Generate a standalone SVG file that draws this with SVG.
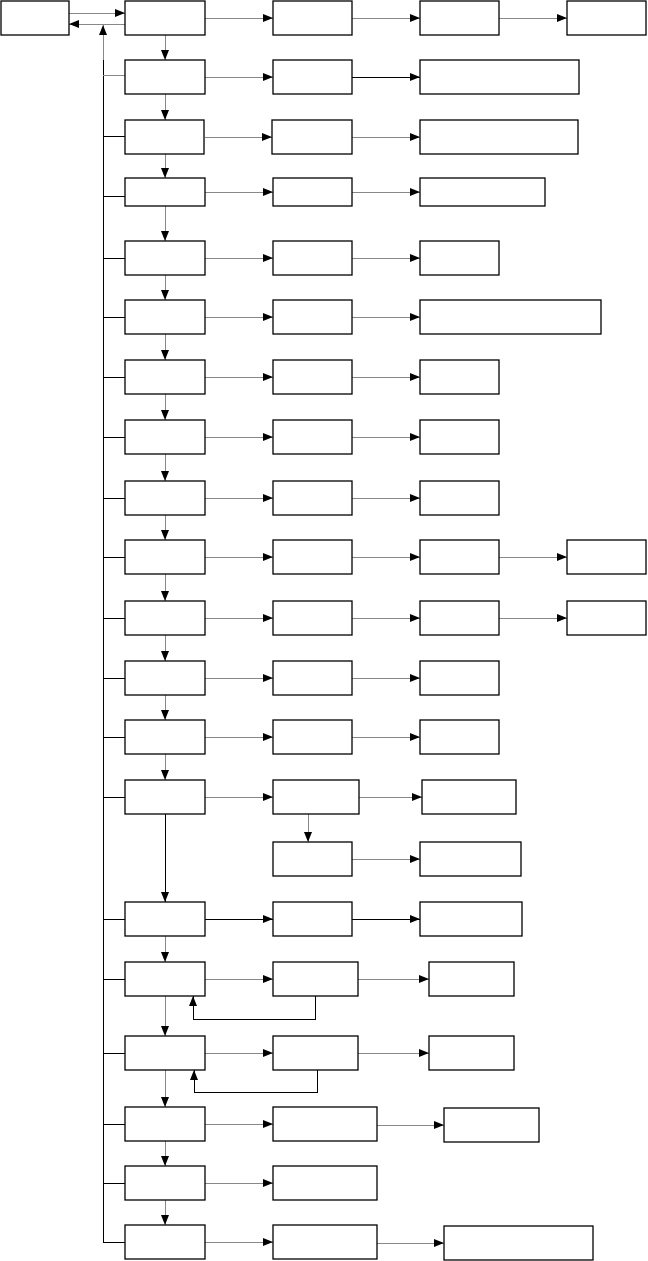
<svg xmlns="http://www.w3.org/2000/svg" width="648" height="1261" viewBox="0 0 648 1261">
<style>
.box{fill:#fff;stroke:#000;stroke-width:1.3}
.c{fill:none;stroke:#888;stroke-width:1;shape-rendering:crispEdges}
.k{fill:none;stroke:#000;stroke-width:1;shape-rendering:crispEdges}
</style>
<defs>
<marker id="a" markerWidth="10" markerHeight="8" refX="10" refY="4" orient="auto" markerUnits="userSpaceOnUse"><path d="M0,0 L10,4 L0,8 z" fill="#000"/></marker>
</defs>
<rect width="648" height="1261" fill="#fff"/>
<g id="connectors">
<path class="c" d="M69,13 H125" marker-end="url(#a)"/>
<path class="c" d="M125,24 H69" marker-end="url(#a)"/>
<path class="c" d="M103,60 V25" marker-end="url(#a)"/>
<path class="k" d="M103,60 V1242"/>
<path class="c" d="M103,75 H125"/>
<path class="k" d="M103,136 H125 M103,196 H125 M103,258 H125 M103,317 H125 M103,377 H125 M103,437 H125 M103,498 H125 M103,557 H125 M103,618 H125 M103,678 H125 M103,737 H125 M103,797 H125 M103,919 H125 M103,979 H125 M103,1053 H125 M103,1124 H125 M103,1183 H125 M103,1242 H125"/>
<path class="c" d="M165,35 V60" marker-end="url(#a)"/>
<path class="c" d="M165,94 V120" marker-end="url(#a)"/>
<path class="c" d="M165,154 V178" marker-end="url(#a)"/>
<path class="c" d="M165,206 V241" marker-end="url(#a)"/>
<path class="c" d="M165,275 V300" marker-end="url(#a)"/>
<path class="c" d="M165,334 V360" marker-end="url(#a)"/>
<path class="c" d="M165,394 V420" marker-end="url(#a)"/>
<path class="c" d="M165,454 V481" marker-end="url(#a)"/>
<path class="c" d="M165,515 V540" marker-end="url(#a)"/>
<path class="c" d="M165,574 V601" marker-end="url(#a)"/>
<path class="c" d="M165,635 V661" marker-end="url(#a)"/>
<path class="c" d="M165,695 V720" marker-end="url(#a)"/>
<path class="c" d="M165,754 V780" marker-end="url(#a)"/>
<path class="k" d="M165,814 V902" marker-end="url(#a)"/>
<path class="c" d="M165,936 V962" marker-end="url(#a)"/>
<path class="c" d="M165,996 V1036" marker-end="url(#a)"/>
<path class="c" d="M165,1070 V1107" marker-end="url(#a)"/>
<path class="c" d="M165,1141 V1166" marker-end="url(#a)"/>
<path class="c" d="M165,1200 V1225" marker-end="url(#a)"/>
<path class="c" d="M205,18 H273" marker-end="url(#a)"/>
<path class="c" d="M352,18 H420" marker-end="url(#a)"/>
<path class="c" d="M499,18 H567" marker-end="url(#a)"/>
<path class="c" d="M205,77 H273" marker-end="url(#a)"/>
<path class="k" d="M352,77 H420" marker-end="url(#a)"/>
<path class="c" d="M205,137 H272" marker-end="url(#a)"/>
<path class="c" d="M352,137 H420" marker-end="url(#a)"/>
<path class="c" d="M205,192 H273" marker-end="url(#a)"/>
<path class="c" d="M352,192 H420" marker-end="url(#a)"/>
<path class="c" d="M205,258 H273" marker-end="url(#a)"/>
<path class="c" d="M352,258 H420" marker-end="url(#a)"/>
<path class="c" d="M205,317 H273" marker-end="url(#a)"/>
<path class="c" d="M352,317 H420" marker-end="url(#a)"/>
<path class="c" d="M205,377 H273" marker-end="url(#a)"/>
<path class="c" d="M352,377 H420" marker-end="url(#a)"/>
<path class="c" d="M205,437 H273" marker-end="url(#a)"/>
<path class="c" d="M352,437 H420" marker-end="url(#a)"/>
<path class="c" d="M205,498 H273" marker-end="url(#a)"/>
<path class="c" d="M352,498 H420" marker-end="url(#a)"/>
<path class="c" d="M205,557 H273" marker-end="url(#a)"/>
<path class="c" d="M352,557 H420" marker-end="url(#a)"/>
<path class="c" d="M499,557 H567" marker-end="url(#a)"/>
<path class="c" d="M205,618 H273" marker-end="url(#a)"/>
<path class="c" d="M352,618 H420" marker-end="url(#a)"/>
<path class="c" d="M499,618 H567" marker-end="url(#a)"/>
<path class="c" d="M205,678 H273" marker-end="url(#a)"/>
<path class="c" d="M352,678 H420" marker-end="url(#a)"/>
<path class="c" d="M205,737 H273" marker-end="url(#a)"/>
<path class="c" d="M352,737 H420" marker-end="url(#a)"/>
<path class="c" d="M205,797 H273" marker-end="url(#a)"/>
<path class="c" d="M359,797 H422" marker-end="url(#a)"/>
<path class="c" d="M308,814 V842" marker-end="url(#a)"/>
<path class="c" d="M352,859 H420" marker-end="url(#a)"/>
<path class="k" d="M205,919 H273" marker-end="url(#a)"/>
<path class="k" d="M352,919 H420" marker-end="url(#a)"/>
<path class="c" d="M205,979 H273" marker-end="url(#a)"/>
<path class="c" d="M358,979 H429" marker-end="url(#a)"/>
<path class="k" d="M315,996 V1019 H193 V996" marker-end="url(#a)"/>
<path class="c" d="M205,1053 H273" marker-end="url(#a)"/>
<path class="c" d="M358,1053 H429" marker-end="url(#a)"/>
<path class="k" d="M317,1070 V1092 H194 V1070" marker-end="url(#a)"/>
<path class="c" d="M205,1124 H273" marker-end="url(#a)"/>
<path class="c" d="M377,1125 H444" marker-end="url(#a)"/>
<path class="c" d="M205,1183 H273" marker-end="url(#a)"/>
<path class="c" d="M205,1242 H273" marker-end="url(#a)"/>
<path class="c" d="M377,1243 H444" marker-end="url(#a)"/>
</g>
<g id="nA"><rect class="box" x="1" y="1" width="68" height="34"/></g>
<g id="r1"><rect class="box" x="125" y="1" width="80" height="34"/><rect class="box" x="273" y="1" width="79" height="34"/><rect class="box" x="420" y="1" width="79" height="34"/><rect class="box" x="567" y="1" width="79" height="34"/></g>
<g id="r2"><rect class="box" x="125" y="60" width="80" height="34"/><rect class="box" x="273" y="60" width="79" height="34"/><rect class="box" x="420" y="60" width="159" height="34"/></g>
<g id="r3"><rect class="box" x="125" y="120" width="79" height="34"/><rect class="box" x="272" y="120" width="80" height="34"/><rect class="box" x="420" y="120" width="158" height="34"/></g>
<g id="r4"><rect class="box" x="125" y="178" width="80" height="28"/><rect class="box" x="273" y="178" width="79" height="28"/><rect class="box" x="420" y="178" width="125" height="28"/></g>
<g id="r5"><rect class="box" x="125" y="241" width="80" height="34"/><rect class="box" x="273" y="241" width="79" height="34"/><rect class="box" x="420" y="241" width="79" height="34"/></g>
<g id="r6"><rect class="box" x="125" y="300" width="80" height="34"/><rect class="box" x="273" y="300" width="79" height="34"/><rect class="box" x="420" y="300" width="181" height="34"/></g>
<g id="r7"><rect class="box" x="125" y="360" width="80" height="34"/><rect class="box" x="273" y="360" width="79" height="34"/><rect class="box" x="420" y="360" width="79" height="34"/></g>
<g id="r8"><rect class="box" x="125" y="420" width="80" height="34"/><rect class="box" x="273" y="420" width="79" height="34"/><rect class="box" x="420" y="420" width="79" height="34"/></g>
<g id="r9"><rect class="box" x="125" y="481" width="80" height="34"/><rect class="box" x="273" y="481" width="79" height="34"/><rect class="box" x="420" y="481" width="79" height="34"/></g>
<g id="r10"><rect class="box" x="125" y="540" width="80" height="34"/><rect class="box" x="273" y="540" width="79" height="34"/><rect class="box" x="420" y="540" width="79" height="34"/><rect class="box" x="567" y="540" width="79" height="34"/></g>
<g id="r11"><rect class="box" x="125" y="601" width="80" height="34"/><rect class="box" x="273" y="601" width="79" height="34"/><rect class="box" x="420" y="601" width="79" height="34"/><rect class="box" x="567" y="601" width="79" height="34"/></g>
<g id="r12"><rect class="box" x="125" y="661" width="80" height="34"/><rect class="box" x="273" y="661" width="79" height="34"/><rect class="box" x="420" y="661" width="79" height="34"/></g>
<g id="r13"><rect class="box" x="125" y="720" width="80" height="34"/><rect class="box" x="273" y="720" width="79" height="34"/><rect class="box" x="420" y="720" width="79" height="34"/></g>
<g id="r14"><rect class="box" x="125" y="780" width="80" height="34"/><rect class="box" x="273" y="780" width="86" height="34"/><rect class="box" x="422" y="780" width="94" height="34"/><rect class="box" x="273" y="842" width="79" height="34"/><rect class="box" x="420" y="842" width="101" height="34"/></g>
<g id="r15"><rect class="box" x="125" y="902" width="80" height="34"/><rect class="box" x="273" y="902" width="79" height="34"/><rect class="box" x="420" y="902" width="102" height="34"/></g>
<g id="r16"><rect class="box" x="125" y="962" width="80" height="34"/><rect class="box" x="273" y="962" width="85" height="34"/><rect class="box" x="429" y="962" width="85" height="34"/></g>
<g id="r17"><rect class="box" x="125" y="1036" width="80" height="34"/><rect class="box" x="273" y="1036" width="85" height="34"/><rect class="box" x="429" y="1036" width="85" height="34"/></g>
<g id="r18"><rect class="box" x="125" y="1107" width="80" height="34"/><rect class="box" x="273" y="1107" width="104" height="34"/><rect class="box" x="444" y="1108" width="95" height="34"/></g>
<g id="r19"><rect class="box" x="125" y="1166" width="80" height="34"/><rect class="box" x="273" y="1166" width="104" height="34"/></g>
<g id="r20"><rect class="box" x="125" y="1225" width="80" height="34"/><rect class="box" x="273" y="1225" width="104" height="34"/><rect class="box" x="444" y="1226" width="149" height="34"/></g>
</svg>
